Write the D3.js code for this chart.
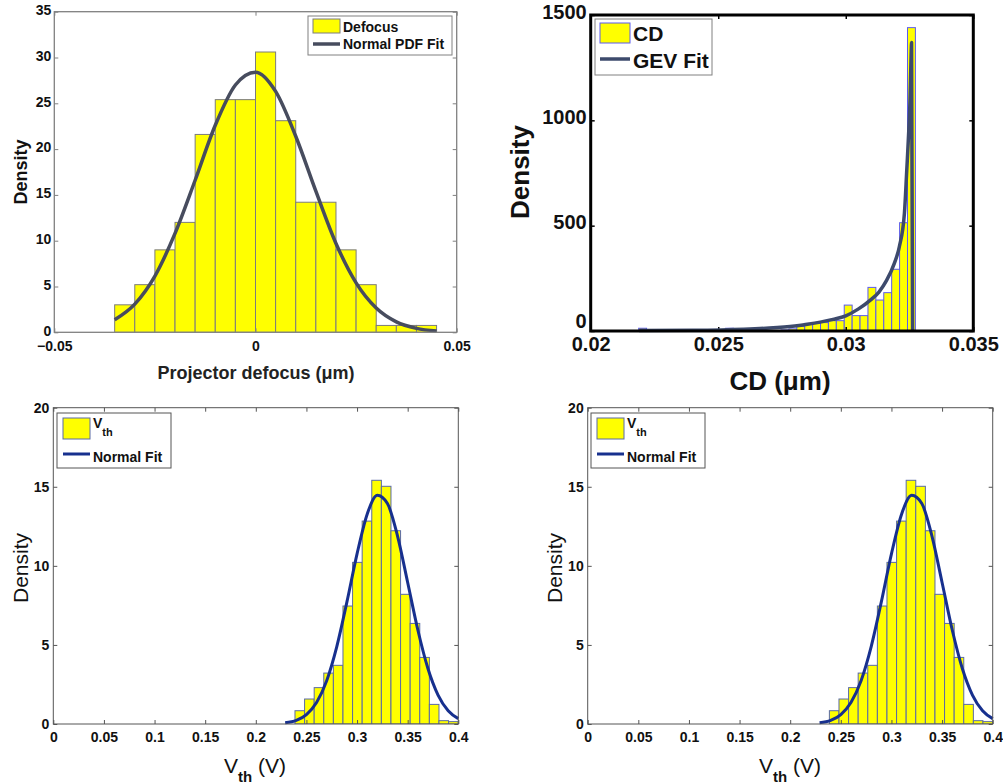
<!DOCTYPE html>
<html>
<head>
<meta charset="utf-8">
<script src="https://cdn.jsdelivr.net/npm/d3@7"></script>
<style>
  body { margin: 0; background: #fff; }
  svg { display: block; font-family: "Liberation Sans", Arial, Helvetica, sans-serif; }
</style>
</head>
<body>
<svg id="chart" width="1003" height="784"></svg>
<script>
// ---- data ----

// panel 1 : projector defocus (normal fit)
const defocusBinStart = -0.035;
const defocusBinWidth = 0.005;
const defocusDensity = [3.0, 5.2, 9.0, 12.0, 21.6, 25.4, 25.4, 30.6, 23.1, 14.2, 14.2, 9.0, 5.2, 0.75, 0.75, 0.75];
const defocusFitX = [-0.035, -0.03, -0.025, -0.02, -0.015, -0.01, -0.005, 0, 0.005, 0.01, 0.015, 0.02, 0.025, 0.03, 0.035, 0.04, 0.045];
const defocusFitY = [1.37, 3.08, 6.14, 10.8, 16.6, 22.6, 27.0, 28.4, 26.3, 21.4, 15.4, 9.7, 5.4, 2.65, 1.14, 0.43, 0.14];
const defocusXTicks = [-0.05, 0, 0.05];
const defocusXLabels = ['\u22120.05', '0', '0.05'];
const defocusYTicks = [0, 5, 10, 15, 20, 25, 30, 35];

// panel 2 : CD (GEV fit)
const cdBinStart = 0.02188;
const cdBinWidth = 0.00031;
const cdDensity = [13, 0, 0, 0, 0, 0, 0, 0, 0, 0, 0, 13, 8, 0, 0, 0, 0, 0, 5, 10,
                   22, 36, 36, 40, 49, 49, 123, 73, 73, 207, 147, 182, 293, 514, 1440];
const cdFitX = [0.0219, 0.024, 0.026, 0.027, 0.028, 0.0285, 0.029, 0.0295, 0.03, 0.0305, 0.031, 0.0313, 0.0316, 0.0319,
                0.0321, 0.0323, 0.03239, 0.03247, 0.03252, 0.03256, 0.03258, 0.03262];
const cdFitY = [2, 3, 8, 14, 24, 32, 42, 55, 72, 105, 150, 185, 240, 320, 400, 560, 760, 950, 1100, 1300, 1370, 0];
const cdXTicks = [0.02, 0.025, 0.03, 0.035];
const cdXLabels = ['0.02', '0.025', '0.03', '0.035'];
const cdYTicks = [0, 500, 1000, 1500];

// panels 3 and 4 : Vth (normal fit), same data drawn twice
const vthBinStart = 0.2387;
const vthBinWidth = 0.00948;
const vthDensity = [0.84, 1.58, 2.30, 3.22, 3.71, 7.46, 10.22, 12.83, 15.41, 15.03, 12.22, 8.20, 6.36, 4.21, 1.24, 0.21, 0.15];
const vthFitX = [0.229, 0.24, 0.25, 0.26, 0.27, 0.28, 0.29, 0.30, 0.31, 0.32, 0.33, 0.34, 0.35, 0.36, 0.37, 0.38, 0.39, 0.40];
const vthFitY = [0.08, 0.23, 0.60, 1.36, 2.74, 4.90, 7.72, 10.76, 13.27, 14.46, 13.94, 11.88, 8.95, 5.96, 3.51, 1.83, 0.84, 0.34];
const vthXTicks = [0, 0.05, 0.1, 0.15, 0.2, 0.25, 0.3, 0.35, 0.4];
const vthXLabels = ['0', '0.05', '0.1', '0.15', '0.2', '0.25', '0.3', '0.35', '0.4'];
const vthYTicks = [0, 5, 10, 15, 20];

const svg = d3.select('#chart');

// 畫一個直方圖 + 擬合曲線
function drawPanel(p){
    const x = d3.scaleLinear().domain(p.xDomain).range([p.left, p.right]);
    const y = d3.scaleLinear().domain(p.yDomain).range([p.bottom, p.top]);
    const g = svg.append('g');

    const clipId = 'clip' + p.id;
    g.append('clipPath').attr('id', clipId).append('rect')
        .attr('x', p.left).attr('y', p.top - 2)
        .attr('width', p.right - p.left).attr('height', p.bottom - p.top + 2);

    const bins = p.density.map((d, i) => ({x0: p.binStart + i * p.binWidth, x1: p.binStart + (i + 1) * p.binWidth, v: d}));

    g.append('g').attr('clip-path', `url(#${clipId})`)
        .selectAll('rect').data(bins).join('rect')
        .attr('x', d => x(d.x0))
        .attr('width', d => x(d.x1) - x(d.x0))
        .attr('y', d => y(d.v))
        .attr('height', d => y(0) - y(d.v))
        .attr('fill', '#ffff00')
        .attr('stroke', p.barEdge)
        .attr('stroke-width', 1);

    // axes (ticks inside on all four sides)
    const tk = p.tickLen;
    const xb = d3.axisBottom(x).tickValues(p.xTicks).tickFormat((d, i) => p.xLabels[i])
        .tickSizeInner(-tk).tickSizeOuter(0).tickPadding(p.xPad);
    const xt = d3.axisTop(x).tickValues(p.xTicks).tickFormat('').tickSizeInner(-tk).tickSizeOuter(0);
    const yl = d3.axisLeft(y).tickValues(p.yTicks).tickFormat(d3.format('d'))
        .tickSizeInner(-tk).tickSizeOuter(0).tickPadding(p.yPad);
    const yr = d3.axisRight(y).tickValues(p.yTicks).tickFormat('').tickSizeInner(-tk).tickSizeOuter(0);

    const axes = [
        g.append('g').attr('transform', `translate(0,${p.bottom})`).call(xb),
        g.append('g').attr('transform', `translate(0,${p.top})`).call(xt),
        g.append('g').attr('transform', `translate(${p.left},0)`).call(yl),
        g.append('g').attr('transform', `translate(${p.right},0)`).call(yr)
    ];
    axes.forEach(a => {
        a.select('.domain').remove();
        a.selectAll('line').attr('stroke', p.axisColor).attr('stroke-width', p.tickWidth);
        a.selectAll('text')
            .style('font-family', '"Liberation Sans", Arial, sans-serif')
            .style('font-size', p.tickFont + 'px')
            .style('font-weight', 'bold')
            .attr('fill', '#111');
    });
    // y 軸文字稍微上移，避免跟 x 軸的 0 撞在一起
    axes[2].selectAll('text').attr('dy', d => (d === 0 && p.zeroDy) ? p.zeroDy : p.yDy);

    // fit curve
    const line = d3.line().x(d => x(d[0])).y(d => y(d[1])).curve(d3.curveMonotoneX);
    g.append('path')
        .datum(p.fitX.map((v, i) => [v, p.fitY[i]]))
        .attr('d', line)
        .attr('fill', 'none')
        .attr('stroke', p.fitColor)
        .attr('stroke-width', p.fitWidth)
        .attr('stroke-linejoin', 'round');

    // box
    g.append('rect')
        .attr('x', p.left).attr('y', p.top)
        .attr('width', p.right - p.left).attr('height', p.bottom - p.top)
        .attr('fill', 'none').attr('stroke', p.axisColor).attr('stroke-width', p.boxWidth);

    return g;
}

// legend
function drawLegend(g, L){
    g.append('rect').attr('x', L.x).attr('y', L.y).attr('width', L.w).attr('height', L.h)
        .attr('fill', '#fff').attr('stroke', L.border).attr('stroke-width', 1);
    g.append('rect').attr('x', L.px).attr('y', L.py).attr('width', L.pw).attr('height', L.ph)
        .attr('fill', '#ffff00').attr('stroke', L.edge).attr('stroke-width', 1);
    g.append('line').attr('x1', L.px).attr('x2', L.px + L.pw).attr('y1', L.ly).attr('y2', L.ly)
        .attr('stroke', L.lineColor).attr('stroke-width', L.lineWidth);
    const t1 = g.append('text').attr('x', L.tx).attr('y', L.t1y)
        .style('font-size', L.font + 'px').style('font-weight', 'bold').attr('fill', '#111');
    t1.append('tspan').text(L.label1);
    if (L.sub) {
        t1.append('tspan').attr('dy', L.subDy).style('font-size', L.subFont + 'px').text(L.sub);
    }
    g.append('text').attr('x', L.tx).attr('y', L.t2y)
        .style('font-size', L.font + 'px').style('font-weight', 'bold').attr('fill', '#111')
        .text(L.label2);
}

function yLabel(g, text, cx, cy, size, weight){
    g.append('text').attr('transform', `translate(${cx},${cy}) rotate(-90)`)
        .attr('text-anchor', 'middle').attr('dy', '0.35em')
        .style('font-size', size + 'px').style('font-weight', weight).attr('fill', '#111')
        .text(text);
}

// ---- panel 1 ----
const g1 = drawPanel({
    id: 1, left: 54.3, right: 456.7, top: 11.7, bottom: 332.3,
    xDomain: [-0.05, 0.05], yDomain: [0, 35],
    binStart: defocusBinStart, binWidth: defocusBinWidth, density: defocusDensity,
    fitX: defocusFitX, fitY: defocusFitY,
    xTicks: defocusXTicks, xLabels: defocusXLabels, yTicks: defocusYTicks,
    barEdge: '#7c7c7c', fitColor: '#474c5e', fitWidth: 3.5,
    axisColor: '#808080', boxWidth: 1.3, tickWidth: 1, tickLen: 4,
    tickFont: 14, xPad: 9, yPad: 3, yDy: '0.2em'
});
drawLegend(g1, {x: 308, y: 16, w: 144, h: 39, border: '#808080',
    px: 313, py: 19, pw: 27, ph: 14, edge: '#7c7c7c', ly: 44, lineColor: '#474c5e', lineWidth: 3.5,
    tx: 343, t1y: 32, t2y: 49, font: 14, label1: 'Defocus', label2: 'Normal PDF Fit'});
yLabel(g1, 'Density', 21, 172, 18, 'bold');
g1.append('text').attr('x', 256).attr('y', 379).attr('text-anchor', 'middle')
    .style('font-size', '18px').style('font-weight', 'bold').attr('fill', '#222')
    .text('Projector defocus (\u03bcm)');

// ---- panel 2 ----
const g2 = drawPanel({
    id: 2, left: 590.7, right: 973.3, top: 15, bottom: 331,
    xDomain: [0.02, 0.035], yDomain: [0, 1500],
    binStart: cdBinStart, binWidth: cdBinWidth, density: cdDensity,
    fitX: cdFitX, fitY: cdFitY,
    xTicks: cdXTicks, xLabels: cdXLabels, yTicks: cdYTicks,
    barEdge: '#5b5bf0', fitColor: '#3d4a6c', fitWidth: 3.5,
    axisColor: '#000', boxWidth: 3, tickWidth: 1.5, tickLen: 4,
    tickFont: 20, xPad: 6, yPad: 4, yDy: '0.15em', zeroDy: '-0.2em'
});
drawLegend(g2, {x: 595, y: 19, w: 117, h: 56, border: '#808080',
    px: 600, py: 23, pw: 30, ph: 20, edge: '#5b5bf0', ly: 59, lineColor: '#3d4a6c', lineWidth: 3.5,
    tx: 633, t1y: 41, t2y: 68, font: 21, label1: 'CD', label2: 'GEV Fit'});
yLabel(g2, 'Density', 520, 172, 26, 'bold');
g2.append('text').attr('x', 780).attr('y', 390).attr('text-anchor', 'middle')
    .style('font-size', '26px').style('font-weight', 'bold').attr('fill', '#111')
    .text('CD (\u03bcm)');

// ---- panels 3 & 4 ----
function vthPanel(id, left, right, legX, labelX, densX){
    const g = drawPanel({
        id: id, left: left, right: right, top: 407.7, bottom: 724,
        xDomain: [0, 0.4], yDomain: [0, 20],
        binStart: vthBinStart, binWidth: vthBinWidth, density: vthDensity,
        fitX: vthFitX, fitY: vthFitY,
        xTicks: vthXTicks, xLabels: vthXLabels, yTicks: vthYTicks,
        barEdge: '#5a6aa6', fitColor: '#17308e', fitWidth: 3,
        axisColor: '#555', boxWidth: 1, tickWidth: 1, tickLen: 4,
        tickFont: 14, xPad: 8, yPad: 4, yDy: '0.32em'
    });
    drawLegend(g, {x: legX, y: 413, w: 114, h: 55, border: '#555',
        px: legX + 6, py: 418, pw: 27, ph: 21, edge: '#5a6aa6', ly: 454, lineColor: '#17308e', lineWidth: 3,
        tx: legX + 36, t1y: 428, t2y: 462, font: 14, label1: 'V', sub: 'th', subDy: 8, subFont: 11,
        label2: 'Normal Fit'});
    yLabel(g, 'Density', densX, 568, 21, 'normal');
    const t = g.append('text').attr('x', labelX).attr('y', 773)
        .style('font-size', '21px').attr('fill', '#111');
    t.append('tspan').text('V');
    t.append('tspan').attr('dy', 9).style('font-size', '15px').style('font-weight', 'bold').text('th');
    t.append('tspan').attr('dy', -9).text(' (V)');
}
vthPanel(3, 53.3, 458.3, 57, 224, 21);
vthPanel(4, 587.7, 992.7, 591, 759, 555);
</script>
</body>
</html>
